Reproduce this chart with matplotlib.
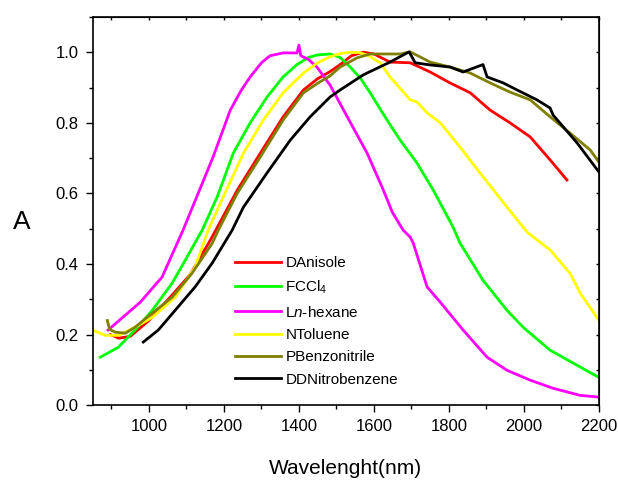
import matplotlib
matplotlib.use('Agg')
import matplotlib.pyplot as plt
from matplotlib.ticker import MultipleLocator, NullFormatter

plt.rcParams['font.family'] = ['Liberation Sans', 'DejaVu Sans']
plt.rcParams['mathtext.fontset'] = 'custom'
plt.rcParams['mathtext.rm'] = 'Liberation Sans'
plt.rcParams['mathtext.it'] = 'Liberation Sans:italic'

# Anisole (red)
anisole_x = [897, 920, 950, 1000, 1060, 1110, 1164, 1236, 1297, 1358, 1412, 1450, 1483, 1510,
             1540, 1572, 1600, 1643, 1697, 1750, 1803, 1857, 1910, 1963, 2017, 2070, 2115]
anisole_y = [0.20, 0.19, 0.195, 0.24, 0.31, 0.37, 0.468, 0.61, 0.714, 0.817, 0.893, 0.925,
             0.945, 0.965, 0.99, 1.0, 0.995, 0.972, 0.970, 0.944, 0.913, 0.885, 0.836, 0.800,
             0.760, 0.695, 0.638]

# CCl4 (green)
ccl4_x = [870, 918, 963, 1009, 1062, 1097, 1142, 1182, 1225, 1270, 1315, 1358, 1395, 1425,
          1448, 1483, 1510, 1537, 1565, 1590, 1635, 1670, 1715, 1758, 1811, 1830, 1891, 1955,
          1998, 2070, 2132, 2200]
ccl4_y = [0.136, 0.164, 0.213, 0.269, 0.346, 0.411, 0.496, 0.590, 0.714, 0.800, 0.873, 0.930,
          0.965, 0.985, 0.992, 0.995, 0.985, 0.958, 0.925, 0.885, 0.808, 0.751, 0.686, 0.610,
          0.505, 0.459, 0.354, 0.269, 0.221, 0.156, 0.119, 0.079]

# n-hexane (magenta)
hexane_x = [891, 977, 1035, 1091, 1171, 1217, 1245, 1270, 1300, 1323, 1358, 1395, 1400, 1405,
            1425, 1448, 1483, 1529, 1582, 1625, 1649, 1678, 1697, 1705, 1742, 1777, 1838, 1902,
            1955, 2017, 2078, 2150, 2200]
hexane_y = [0.213, 0.292, 0.363, 0.496, 0.703, 0.836, 0.89, 0.930, 0.970, 0.990, 0.998, 0.998,
            1.02, 0.99, 0.98, 0.958, 0.907, 0.817, 0.714, 0.610, 0.547, 0.496, 0.476, 0.459,
            0.335, 0.292, 0.213, 0.136, 0.099, 0.071, 0.048, 0.028, 0.023]

# Toluene (yellow)
toluene_x = [849, 883, 918, 963, 1009, 1070, 1123, 1158, 1198, 1252, 1305, 1358, 1412, 1450,
             1483, 1510, 1537, 1560, 1582, 1617, 1643, 1697, 1715, 1742, 1777, 1830, 1883,
             1955, 2009, 2070, 2123, 2150, 2200]
toluene_y = [0.213, 0.198, 0.198, 0.221, 0.249, 0.306, 0.391, 0.496, 0.590, 0.714, 0.808, 0.885,
             0.941, 0.970, 0.987, 0.996, 1.0, 0.999, 0.992, 0.970, 0.930, 0.865, 0.859, 0.828,
             0.800, 0.731, 0.658, 0.561, 0.490, 0.440, 0.374, 0.318, 0.241]

# Benzonitrile (olive)
benzo_x = [889, 895, 910, 937, 963, 1009, 1062, 1115, 1169, 1185, 1236, 1297, 1358, 1412, 1450,
           1483, 1510, 1555, 1590, 1670, 1697, 1750, 1803, 1857, 1910, 1963, 2017, 2070, 2123,
           2177, 2200]
benzo_y = [0.24, 0.215, 0.207, 0.204, 0.221, 0.261, 0.306, 0.374, 0.459, 0.496, 0.601, 0.703,
           0.808, 0.885, 0.912, 0.933, 0.958, 0.984, 0.995, 0.995, 1.001, 0.972, 0.958, 0.941,
           0.913, 0.887, 0.865, 0.817, 0.771, 0.723, 0.689]

# Nitrobenzene (black)
nitro_x = [985, 1025, 1070, 1123, 1169, 1222, 1252, 1315, 1377, 1430, 1483, 1510, 1572, 1643,
           1694, 1710, 1750, 1803, 1838, 1891, 1902, 1945, 1982, 2035, 2070, 2078, 2142, 2200]
nitro_y = [0.179, 0.213, 0.269, 0.335, 0.403, 0.496, 0.561, 0.658, 0.751, 0.817, 0.873, 0.893,
           0.936, 0.972, 1.001, 0.970, 0.964, 0.958, 0.944, 0.965, 0.930, 0.913, 0.893, 0.865,
           0.842, 0.822, 0.743, 0.661]

series = [
    (anisole_x, anisole_y, '#ff0000', 'DAnisole'),
    (ccl4_x, ccl4_y, '#00ff00', 'FCCl$_4$'),
    (hexane_x, hexane_y, '#ff00ff', 'L$n$-hexane'),
    (toluene_x, toluene_y, '#ffff00', 'NToluene'),
    (benzo_x, benzo_y, '#808000', 'PBenzonitrile'),
    (nitro_x, nitro_y, '#000000', 'DDNitrobenzene'),
]

fig = plt.figure(figsize=(6.18, 4.83), dpi=100)
ax = fig.add_axes([0.150, 0.161, 0.819, 0.804])

for xs, ys, c, lab in series:
    ax.plot(xs, ys, color=c, lw=2.0, label=lab)

ax.set_xlim(850, 2200)
ax.set_ylim(0, 1.1)
ax.xaxis.set_major_locator(MultipleLocator(200))
ax.xaxis.set_minor_locator(MultipleLocator(100))
ax.yaxis.set_major_locator(MultipleLocator(0.2))
ax.yaxis.set_minor_locator(MultipleLocator(0.1))
ax.yaxis.set_major_formatter(plt.FuncFormatter(lambda v, p: f'{v:.1f}'))
ax.tick_params(which='major', direction='out', length=5, width=1, labelsize=12, pad=5)
ax.tick_params(which='minor', direction='out', length=3, width=1)
for s in ax.spines.values():
    s.set_linewidth(1.2)

# small inward ticks on top and right
top = ax.secondary_xaxis('top')
top.xaxis.set_major_locator(MultipleLocator(100))
top.xaxis.set_major_formatter(NullFormatter())
top.tick_params(direction='in', length=2, width=1)
right = ax.secondary_yaxis('right')
right.yaxis.set_major_locator(MultipleLocator(0.1))
right.yaxis.set_major_formatter(NullFormatter())
right.tick_params(direction='in', length=2, width=1)

ax.set_xlabel('Wavelenght(nm)', fontsize=15, labelpad=18)
ax.set_ylabel('A', fontsize=19, rotation=0)
ax.yaxis.set_label_coords(-0.14, 0.44)

ax.legend(loc='lower left', bbox_to_anchor=(0.26, 0.02), frameon=False, fontsize=11,
          handlelength=3.0, labelspacing=0.55, handletextpad=0.3, borderpad=0.2)

fig.savefig('out.png', dpi=100)
